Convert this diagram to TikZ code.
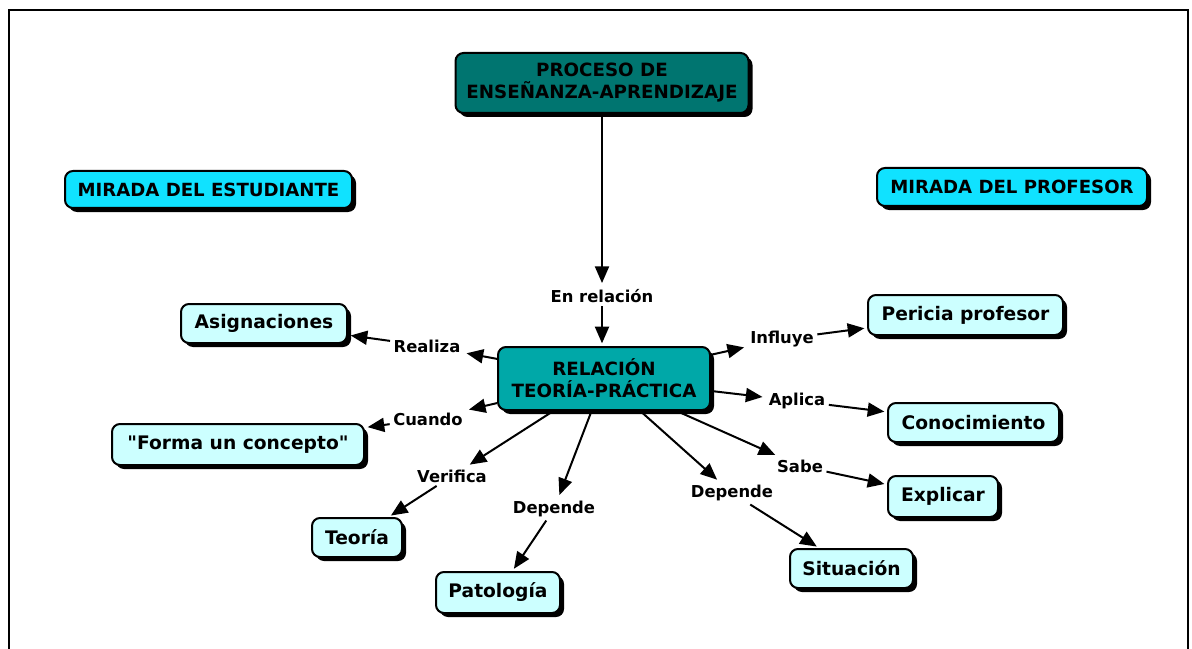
\documentclass[tikz,border=0pt]{standalone}
\usepackage{fontspec}
\setmainfont{DejaVu Sans}
\usetikzlibrary{shadows,arrows.meta}

\definecolor{procfill}{RGB}{0,117,112}
\definecolor{relfill}{RGB}{0,168,168}
\definecolor{viewfill}{RGB}{16,226,255}
\definecolor{leaffill}{RGB}{204,255,255}

\tikzset{
  box/.style={draw=black, line width=1.5pt, rounded corners=6pt, align=center,
    inner sep=0pt, font=\fontsize{14}{16.5}\selectfont\bfseries,
    drop shadow={shadow xshift=3pt, shadow yshift=-3pt, opacity=1, fill=black}},
  mainbox/.style={box, fill=procfill, font=\fontsize{13.7}{16.5}\selectfont\bfseries},
  relbox/.style={box, fill=relfill, font=\fontsize{13.7}{16.5}\selectfont\bfseries},
  viewbox/.style={box, fill=viewfill, font=\fontsize{13.6}{15}\selectfont\bfseries},
  leafbox/.style={box, fill=leaffill},
  linklabel/.style={inner sep=2.5pt, font=\fontsize{12.3}{14}\selectfont\bfseries},
  link/.style={line width=1.5pt, -{Triangle[length=12.5pt,width=10.5pt]}, shorten >=2pt}
}

\begin{document}
\begin{tikzpicture}[x=0.75pt,y=-0.75pt]
  \useasboundingbox (0,0) rectangle (1192,649);

  % outer frame, open at the bottom
  \draw[line width=1.5pt] (9,649) -- (9,10) -- (1188,10) -- (1188,649);

  % concept boxes
  \node[mainbox, minimum width=293*0.75pt, minimum height=60*0.75pt] (proc) at (602,83)
    {PROCESO DE\\ENSEÑANZA-APRENDIZAJE};
  \node[viewbox, minimum width=287*0.75pt, minimum height=37*0.75pt] (mest) at (208.5,189.5)
    {MIRADA DEL ESTUDIANTE};
  \node[viewbox, minimum width=270*0.75pt, minimum height=38*0.75pt] (mprof) at (1012,187)
    {MIRADA DEL PROFESOR};
  \node[relbox, minimum width=212*0.75pt, minimum height=63*0.75pt] (rel) at (604,378.5)
    {RELACIÓN\\TEORÍA-PRÁCTICA};

  \node[leafbox, minimum width=166*0.75pt, minimum height=39*0.75pt] (asig) at (264,323.5) {Asignaciones};
  \node[leafbox, minimum width=252*0.75pt, minimum height=41*0.75pt] (forma) at (238,444.5)
    {\textquotedbl Forma un concepto\textquotedbl};
  \node[leafbox, minimum width=90*0.75pt, minimum height=39*0.75pt] (teor) at (357,537.5) {Teoría};
  \node[leafbox, minimum width=124*0.75pt, minimum height=41*0.75pt] (pato) at (498,592.5) {Patología};
  \node[leafbox, minimum width=123*0.75pt, minimum height=39*0.75pt] (situ) at (851.5,568.5) {Situación};
  \node[leafbox, minimum width=110*0.75pt, minimum height=41*0.75pt] (expl) at (943,496.5) {Explicar};
  \node[leafbox, minimum width=171*0.75pt, minimum height=39*0.75pt] (cono) at (973.5,422.5) {Conocimiento};
  \node[leafbox, minimum width=195*0.75pt, minimum height=40*0.75pt] (peri) at (965.5,315) {Pericia profesor};

  % linking phrases
  \node[linklabel] (enrel) at (602,296) {En relación};
  \node[linklabel] (realiza) at (427,346) {Realiza};
  \node[linklabel] (cuando) at (428,419) {Cuando};
  \node[linklabel] (verif) at (452,476) {Verifica};
  \node[linklabel] (depl) at (554,509) {Depende};
  \node[linklabel] (depr) at (732,493) {Depende};
  \node[linklabel] (sabe) at (800,466) {Sabe};
  \node[linklabel] (aplica) at (797,401) {Aplica};
  \node[linklabel] (influye) at (782,339) {Influye};

  % connectors
  \draw[link] (proc) -- (enrel);
  \draw[link] (enrel.south) -- (enrel.south |- rel.north);

  \draw[link] (rel) -- (realiza);
  \draw[link] (realiza) -- (asig);
  \draw[link] (rel) -- (cuando);
  \draw[link] (cuando) -- (forma);
  \draw[link] (rel) -- (verif);
  \draw[link] (verif) -- (teor);
  \draw[link] (rel) -- (depl);
  \draw[link] (depl) -- (pato);
  \draw[link] (rel) -- (depr);
  \draw[link] (depr) -- (situ);
  \draw[link] (rel) -- (sabe);
  \draw[link] (sabe) -- (expl);
  \draw[link] (rel) -- (aplica);
  \draw[link] (aplica) -- (cono);
  \draw[link] (rel) -- (influye);
  \draw[link] (influye) -- (peri);
\end{tikzpicture}
\end{document}
